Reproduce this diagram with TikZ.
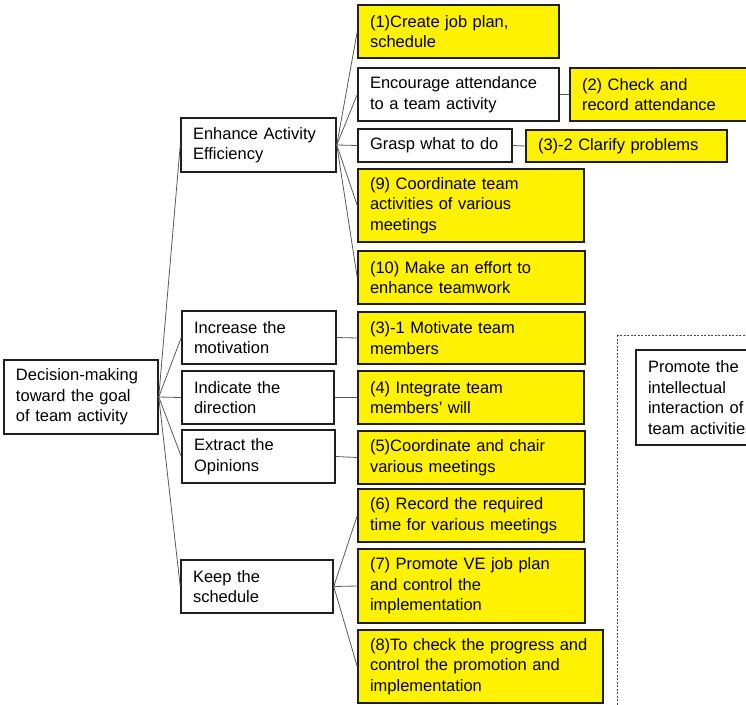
\documentclass[tikz,border=0pt]{standalone}
\usepackage{fontspec}
\setmainfont{Liberation Sans}
\usepackage{xcolor}
\usepackage{tikz}

\begin{document}
\begin{tikzpicture}[x=1pt, y=-1pt,
    box/.style={draw=black!88, line width=1.5pt, fill=white, inner xsep=12pt, inner ysep=0pt,
                align=left, font=\fontsize{16.5}{20.5}\selectfont},
    task/.style={box, fill=yellow},
    link/.style={draw=black!65, line width=0.8pt}]
             \useasboundingbox (0,0) rectangle (746,704);
             \clip (0,0) rectangle (746,704);

             \draw[draw=black!70, line width=0.8pt, dash pattern=on 2pt off 1.5pt] (617,335) rectangle (800,760);

             \node[box, text width=130pt, minimum height=74pt] (root) at (81, 397) {Decision-making\\toward the goal\\of team activity};

             \node[box, text width=131pt, minimum height=54pt] (enh) at (258.5, 145) {Enhance Activity\\Efficiency};
             \node[box, text width=130pt, minimum height=53pt] (mot) at (259, 337.5) {Increase the\\motivation};
             \node[box, text width=128pt, minimum height=53pt] (dir) at (258, 397.5) {Indicate the\\direction};
             \node[box, text width=129pt, minimum height=53pt] (opi) at (258.5, 456.5) {Extract the\\Opinions};
             \node[box, text width=128pt, minimum height=53pt] (sch) at (257, 586.5) {Keep the\\schedule};

             \node[task, text width=177pt, minimum height=53pt] (plan) at (458.5, 31.5) {(1)Create job plan,\\schedule};
             \node[box, text width=177pt, minimum height=53pt] (att) at (458.5, 94.5) {Encourage attendance\\to a team activity};
             \node[task, text width=176pt, minimum height=53pt] (rec) at (670, 94.5) {(2) Check and\\record attendance};
             \node[box, text width=130pt, minimum height=33pt] (grasp) at (435, 145.5) {Grasp what to do};
             \node[task, text width=177pt, minimum height=32pt] (clar) at (626.5, 146) {(3)-2 Clarify problems};
             \node[task, text width=202pt, minimum height=73pt] (coord) at (471, 205.5) {(9) Coordinate team\\activities of various\\meetings};
             \node[task, text width=203pt, minimum height=53pt] (tw) at (471.5, 277.5) {(10) Make an effort to\\enhance teamwork};
             \node[task, text width=203pt, minimum height=52pt] (motv) at (471.5, 338) {(3)-1 Motivate team\\members};
             \node[task, text width=202pt, minimum height=53pt] (will) at (471, 397.5) {(4) Integrate team\\members’ will};
             \node[task, text width=203pt, minimum height=53pt] (chair) at (471.5, 457.5) {(5)Coordinate and chair\\various meetings};
             \node[task, text width=202pt, minimum height=53pt] (time) at (471, 515.5) {(6) Record the required\\time for various meetings};
             \node[task, text width=203pt, minimum height=74pt] (ve) at (471.5, 586) {(7) Promote VE job plan\\and control the\\implementation};
             \node[task, text width=221pt, minimum height=73pt] (prog) at (480.5, 666.5) {(8)To check the progress and\\control the promotion and\\implementation};

             \node[box, text width=140pt, minimum height=95pt] (promo) at (718, 397.5) {Promote the\\intellectual\\interaction of\\team activities};

             \draw[link] (root.east) -- (enh.west);
             \draw[link] (root.east) -- (mot.west);
             \draw[link] (root.east) -- (dir.west);
             \draw[link] (root.east) -- (opi.west);
             \draw[link] (root.east) -- (sch.west);

             \draw[link] (enh.east) -- (plan.west);
             \draw[link] (enh.east) -- (att.west);
             \draw[link] (enh.east) -- (grasp.west);
             \draw[link] (enh.east) -- (coord.west);
             \draw[link] (enh.east) -- (tw.west);
             \draw[link] (att.east) -- (rec.west);
             \draw[link] (grasp.east) -- (clar.west);

             \draw[link] (mot.east) -- (motv.west);
             \draw[link] (dir.east) -- (will.west);
             \draw[link] (opi.east) -- (chair.west);

             \draw[link] (sch.east) -- (time.west);
             \draw[link] (sch.east) -- (ve.west);
             \draw[link] (sch.east) -- (prog.west);
             \end{tikzpicture}
\end{document}
